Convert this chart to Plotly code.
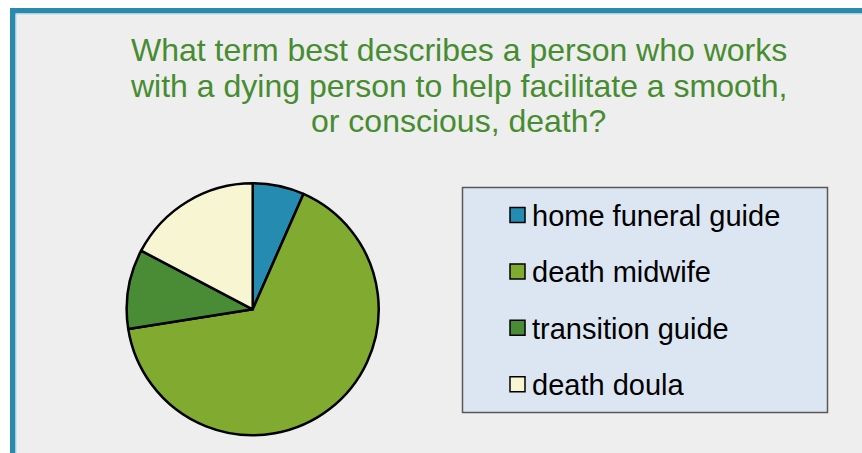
import plotly.graph_objects as go

# ---- data ----
categories = ["home funeral guide", "death midwife", "transition guide", "death doula"]
values = [6.6, 65.9, 10.2, 17.3]
colors = ["#258bb0", "#80ab30", "#4a8c35", "#f8f5d3"]
title_lines = [
    "What term best describes a person who works",
    "with a dying person to help facilitate a smooth,",
    "or conscious, death?",
]

W, H = 862, 453
FONT = "Liberation Sans, Arial, sans-serif"


def px(x):
    return x / W


def py(y):
    return 1 - y / H


fig = go.Figure()

# pie: center ~ (252.7, 309.3), radius ~126
fig.add_trace(go.Pie(
    labels=categories,
    values=values,
    sort=False,
    direction="clockwise",
    rotation=0,
    textinfo="none",
    hoverinfo="label+percent",
    marker=dict(colors=colors, line=dict(color="#000000", width=2.5)),
    domain=dict(x=[px(126.7), px(378.7)], y=[py(435.3), py(183.3)]),
    showlegend=False,
))

shapes = []
# outer panel with teal border (left & top visible)
shapes.append(dict(type="rect", xref="paper", yref="paper",
                   x0=px(12.75), y0=py(10.75), x1=px(W + 40), y1=py(H + 40),
                   fillcolor="#eeeeee", line=dict(color="#2a8aae", width=5.5), layer="below"))
shapes.append(dict(type="rect", xref="paper", yref="paper",
                   x0=px(16.2), y0=py(14.2), x1=px(W + 40), y1=py(H + 40),
                   fillcolor="rgba(0,0,0,0)", line=dict(color="#cfdfe8", width=1.2), layer="below"))
# legend box
shapes.append(dict(type="rect", xref="paper", yref="paper",
                   x0=px(462.5), y0=py(187.5), x1=px(827.5), y1=py(412.5),
                   fillcolor="#dce6f2", line=dict(color="#595959", width=1.5), layer="below"))

annotations = []
item_y0, item_step = 215.0, 56.4
for i, (name, col) in enumerate(zip(categories, colors)):
    cy = item_y0 + i * item_step
    shapes.append(dict(type="rect", xref="paper", yref="paper",
                       x0=px(510), y0=py(cy + 7.5), x1=px(525), y1=py(cy - 7.5),
                       fillcolor=col, line=dict(color="#000000", width=1.5)))
    annotations.append(dict(x=px(530), y=py(cy + 1), xref="paper", yref="paper",
                            xanchor="left", yanchor="middle", showarrow=False,
                            text=name, font=dict(family=FONT, size=29, color="#000000")))

# title lines
title_baselines = [59.7, 96.0, 131.5]
for line, bl in zip(title_lines, title_baselines):
    annotations.append(dict(x=px(458.5), y=py(bl - 10), xref="paper", yref="paper",
                            xanchor="center", yanchor="middle", showarrow=False,
                            text=line, font=dict(family=FONT, size=32, color="#468c30")))

fig.update_layout(
    width=W, height=H,
    margin=dict(l=0, r=0, t=0, b=0),
    paper_bgcolor="#ffffff",
    plot_bgcolor="#ffffff",
    shapes=shapes,
    annotations=annotations,
    showlegend=False,
)

fig.write_html("out.html",
               config={"displayModeBar": False},
               post_script="document.body.style.margin='0';document.body.style.overflow='hidden';")
